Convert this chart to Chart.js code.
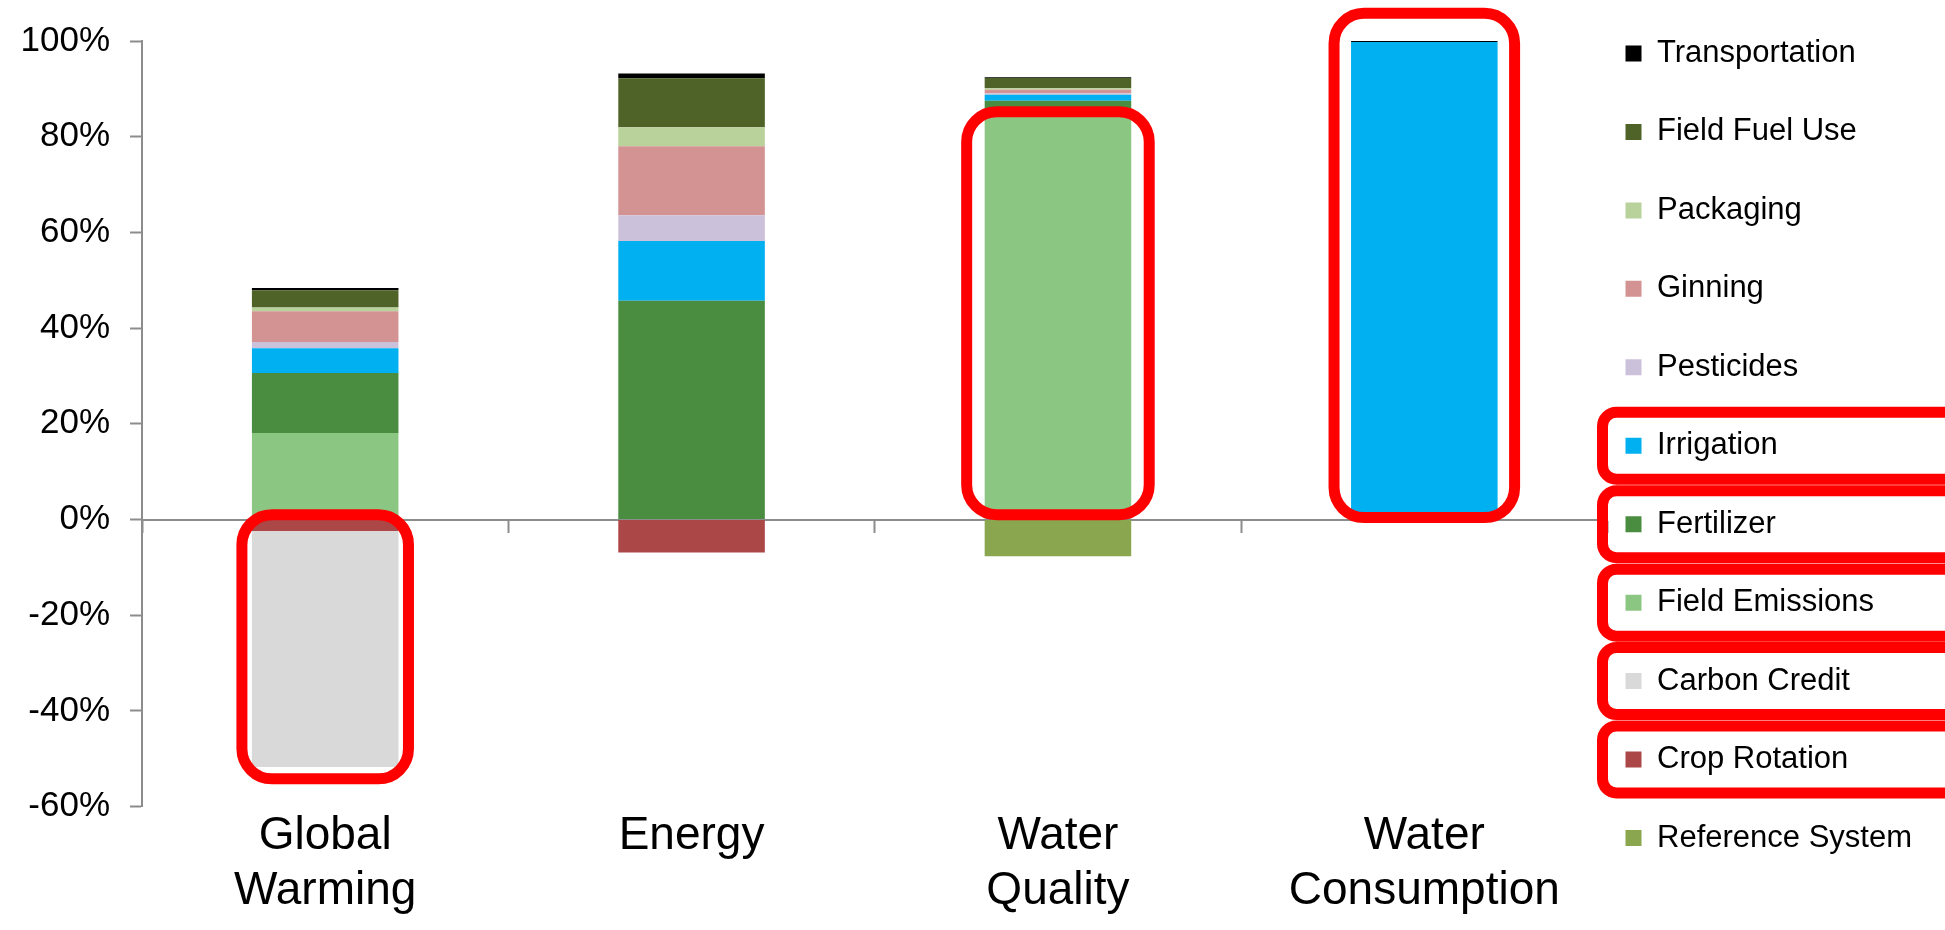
<!DOCTYPE html>
<html>
<head>
<meta charset="utf-8">
<script src="https://cdn.jsdelivr.net/npm/chart.js@4.4.1/dist/chart.umd.min.js"></script>
<style>
  html, body { margin: 0; padding: 0; background: #fff; overflow: hidden; }
  #wrap { position: relative; width: 1945px; height: 930px; }
</style>
</head>
<body>
<div id="wrap"><canvas id="chart"></canvas></div>
<script>
/* ---------- data (percent of total) ---------- */
const categories = [['Global', 'Warming'], 'Energy', ['Water', 'Quality'], ['Water', 'Consumption']];

// stacking order: first dataset sits next to the zero line
const referenceSystem = [0, 0, -7.7, 0];
const cropRotation    = [-2.4, -6.9, 0, 0];
const carbonCredit    = [-49.3, 0, 0, 0];
const fieldEmissions  = [18.1, 0, 85.4, 0];
const fertilizer      = [12.5, 45.7, 2.1, 0];
const irrigation      = [5.2, 12.5, 1.25, 99.8];
const pesticides      = [1.3, 5.4, 0.35, 0];
const ginning         = [6.4, 14.4, 0.7, 0];
const packaging       = [0.8, 4.0, 0.35, 0];
const fieldFuelUse    = [3.6, 10.2, 2.1, 0];
const transportation  = [0.5, 1.0, 0.2, 0.2];

const yTicks = [-60, -40, -20, 0, 20, 40, 60, 80, 100];

// red highlight marks drawn over the chart
const barMarks = [
  { index: 0, from: -54.2, to: 1.0, pad: 10 },
  { index: 2, from: 1.0, to: 85.2, pad: 18 },
  { index: 3, from: 0.4, to: 105.8, pad: 17 },
];
const legendMarks = ['Irrigation', 'Fertilizer', 'Field Emissions', 'Carbon Credit', 'Crop Rotation'];

/* ---------- style ---------- */
const FONT = "'Liberation Sans', Arial, sans-serif";
const AXIS = '#8c8c8c';
const MARK = '#ff0000';
const LEGEND_SIZE = 31;

function ds(label, data, color) {
  return { label, data, backgroundColor: color, borderWidth: 0, categoryPercentage: 1, barPercentage: 0.4 };
}

const markPlugin = {
  id: 'marks',
  afterDraw(chart) {
    const { ctx, scales: { x, y }, legend } = chart;
    const barWidth = chart.getDatasetMeta(0).data[0].width;
    ctx.save();
    ctx.strokeStyle = MARK;
    ctx.lineWidth = 11;
    barMarks.forEach(m => {
      const cx = x.getPixelForValue(m.index);
      const half = barWidth / 2 + m.pad;
      const top = y.getPixelForValue(m.to);
      const bottom = y.getPixelForValue(m.from);
      ctx.beginPath();
      ctx.roundRect(cx - half, top, half * 2, bottom - top, 30);
      ctx.stroke();
    });
    legend.legendItems.forEach((item, i) => {
      const text = Array.isArray(item.text) ? item.text[0] : item.text;
      if (!legendMarks.includes(text)) return;
      const hb = legend.legendHitBoxes[i];
      const cy = hb.top + LEGEND_SIZE / 2;
      ctx.beginPath();
      ctx.roundRect(hb.left - 23, cy - 33.5, chart.width - hb.left + 60, 67, 14);
      ctx.stroke();
    });
    ctx.restore();
  }
};

new Chart(document.getElementById('chart'), {
  type: 'bar',
  data: {
    labels: categories,
    datasets: [
      ds('Reference System', referenceSystem, '#8aa64e'),
      ds('Crop Rotation', cropRotation, '#ab4747'),
      ds('Carbon Credit', carbonCredit, '#d9d9d9'),
      ds('Field Emissions', fieldEmissions, '#8cc683'),
      ds('Fertilizer', fertilizer, '#4a8d41'),
      ds('Irrigation', irrigation, '#00b0f0'),
      ds('Pesticides', pesticides, '#ccc1da'),
      ds('Ginning', ginning, '#d39392'),
      ds('Packaging', packaging, '#b9d19a'),
      ds('Field Fuel Use', fieldFuelUse, '#4f6228'),
      ds('Transportation', transportation, '#000000'),
    ],
  },
  options: {
    responsive: true,
    maintainAspectRatio: false,
    animation: false,
    layout: { padding: { left: 0, top: 20, right: 23, bottom: 9 } },
    plugins: {
      tooltip: { enabled: false },
      legend: {
        position: 'right',
        align: 'start',
        reverse: true,
        labels: {
          boxWidth: 16,
          boxHeight: 16,
          padding: 18,
          color: '#000',
          font: { family: FONT, size: LEGEND_SIZE, lineHeight: 1.95 },
          // one-line arrays so the row pitch follows font.lineHeight
          generateLabels: chart => Chart.defaults.plugins.legend.labels.generateLabels(chart)
            .map(l => ({ ...l, text: [l.text] })),
        },
      },
    },
    scales: {
      x: {
        type: 'category',
        stacked: true,
        offset: true,
        position: { y: 0 },
        ticks: { display: false },
        grid: { offset: true, drawOnChartArea: false, drawTicks: true, tickLength: 12, tickColor: AXIS, tickWidth: 2 },
        border: { display: true, color: AXIS, width: 2 },
      },
      xl: {
        type: 'category',
        position: 'bottom',
        offset: true,
        grid: { display: false, drawTicks: false },
        border: { display: false },
        ticks: {
          color: '#000',
          padding: 2,
          maxRotation: 0,
          autoSkip: false,
          font: { family: FONT, size: 46, lineHeight: 1.2 },
        },
      },
      y: {
        stacked: true,
        min: yTicks[0],
        max: yTicks[yTicks.length - 1],
        afterFit: s => { s.width = 142; },
        afterBuildTicks: s => { s.ticks = yTicks.map(v => ({ value: v })); },
        ticks: {
          color: '#000',
          padding: 20,
          font: { family: FONT, size: 35 },
          callback: v => v + '%',
        },
        grid: { drawOnChartArea: false, drawTicks: true, tickLength: 12, tickColor: AXIS, tickWidth: 2 },
        border: { display: true, color: AXIS, width: 2 },
      },
    },
  },
  plugins: [markPlugin],
});
</script>
</body>
</html>
